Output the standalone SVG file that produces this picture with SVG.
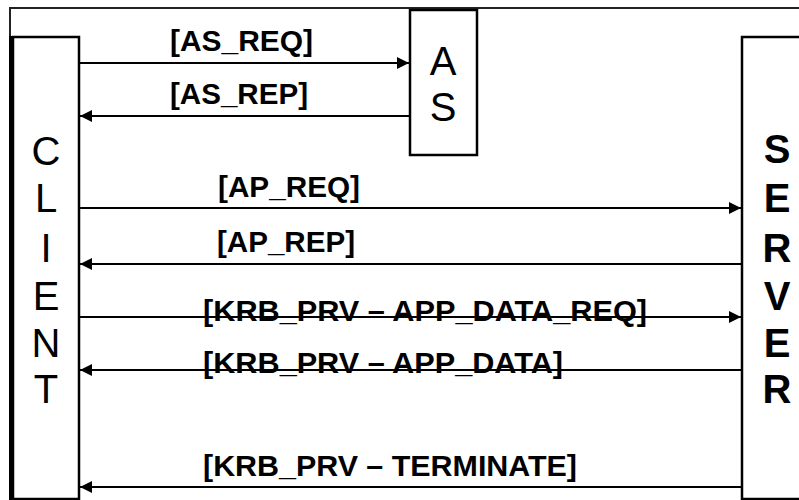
<svg xmlns="http://www.w3.org/2000/svg" width="799" height="500" viewBox="0 0 799 500">
  <style>
    .box { fill: #fff; stroke: #000; stroke-width: 2.5; }
    .frame { fill: none; stroke: #222; stroke-width: 2; }
    .edge { fill: none; stroke: #000; stroke-width: 5; }
    .msg { stroke: #000; stroke-width: 2; fill: none; }
    .big { font-family: "Liberation Sans", Arial, sans-serif; font-size: 40px; fill: #000; text-anchor: middle; }
    .bold { font-weight: bold; }
    .lbl { font-family: "Liberation Sans", Arial, sans-serif; font-size: 29px; font-weight: bold; fill: #000; }
  </style>
  <defs>
    <marker id="arrow" viewBox="0 0 12 12" refX="12" refY="6" markerWidth="12" markerHeight="12" markerUnits="userSpaceOnUse" orient="auto">
      <path d="M0,0 L12,6 L0,12 z" fill="#000"/>
    </marker>
  </defs>
  <rect width="799" height="500" fill="#fff"/>

  <!-- outer frame -->
  <path class="frame" d="M10,38 V8 H799"/>

  <g id="client">
    <rect class="box" x="13" y="37" width="66" height="462"/>
    <line class="edge" x1="11.5" y1="36" x2="11.5" y2="500"/>
    <text class="big" x="46" y="165">C</text>
    <text class="big" x="46" y="212">L</text>
    <text class="big" x="46" y="262">I</text>
    <text class="big" x="46" y="310">E</text>
    <text class="big" x="46" y="357">N</text>
    <text class="big" x="46" y="403">T</text>
  </g>

  <g id="as">
    <rect class="box" x="410" y="10" width="67" height="145"/>
    <text class="big" x="443" y="75">A</text>
    <text class="big" x="443" y="121">S</text>
  </g>

  <g id="server">
    <rect class="box" x="742" y="37" width="70" height="462"/>
    <text class="big bold" x="777" y="163">S</text>
    <text class="big bold" x="777" y="212">E</text>
    <text class="big bold" x="777" y="262">R</text>
    <text class="big bold" x="777" y="310">V</text>
    <text class="big bold" x="777" y="357">E</text>
    <text class="big bold" x="777" y="403">R</text>
  </g>

  <g id="connectors">
    <line class="msg" x1="79" y1="63" x2="409" y2="63" marker-end="url(#arrow)"/>
    <line class="msg" x1="410" y1="116" x2="80" y2="116" marker-end="url(#arrow)"/>
    <line class="msg" x1="79" y1="208" x2="741" y2="208" marker-end="url(#arrow)"/>
    <line class="msg" x1="742" y1="264" x2="80" y2="264" marker-end="url(#arrow)"/>
    <line class="msg" x1="79" y1="317" x2="741" y2="317" marker-end="url(#arrow)"/>
    <line class="msg" x1="742" y1="370" x2="80" y2="370" marker-end="url(#arrow)"/>
    <line class="msg" x1="742" y1="487" x2="80" y2="487" marker-end="url(#arrow)"/>
  </g>

  <g id="labels">
    <text class="lbl" x="170" y="51" textLength="143" lengthAdjust="spacingAndGlyphs">[AS_REQ]</text>
    <text class="lbl" x="170" y="104" textLength="138" lengthAdjust="spacingAndGlyphs">[AS_REP]</text>
    <text class="lbl" x="218" y="197" textLength="142" lengthAdjust="spacingAndGlyphs">[AP_REQ]</text>
    <text class="lbl" x="217" y="252" textLength="138" lengthAdjust="spacingAndGlyphs">[AP_REP]</text>
    <text class="lbl" x="203" y="321" textLength="444" lengthAdjust="spacingAndGlyphs">[KRB_PRV – APP_DATA_REQ]</text>
    <text class="lbl" x="203" y="373" textLength="360" lengthAdjust="spacingAndGlyphs">[KRB_PRV – APP_DATA]</text>
    <text class="lbl" x="203" y="476" textLength="374" lengthAdjust="spacingAndGlyphs">[KRB_PRV – TERMINATE]</text>
  </g>
</svg>
